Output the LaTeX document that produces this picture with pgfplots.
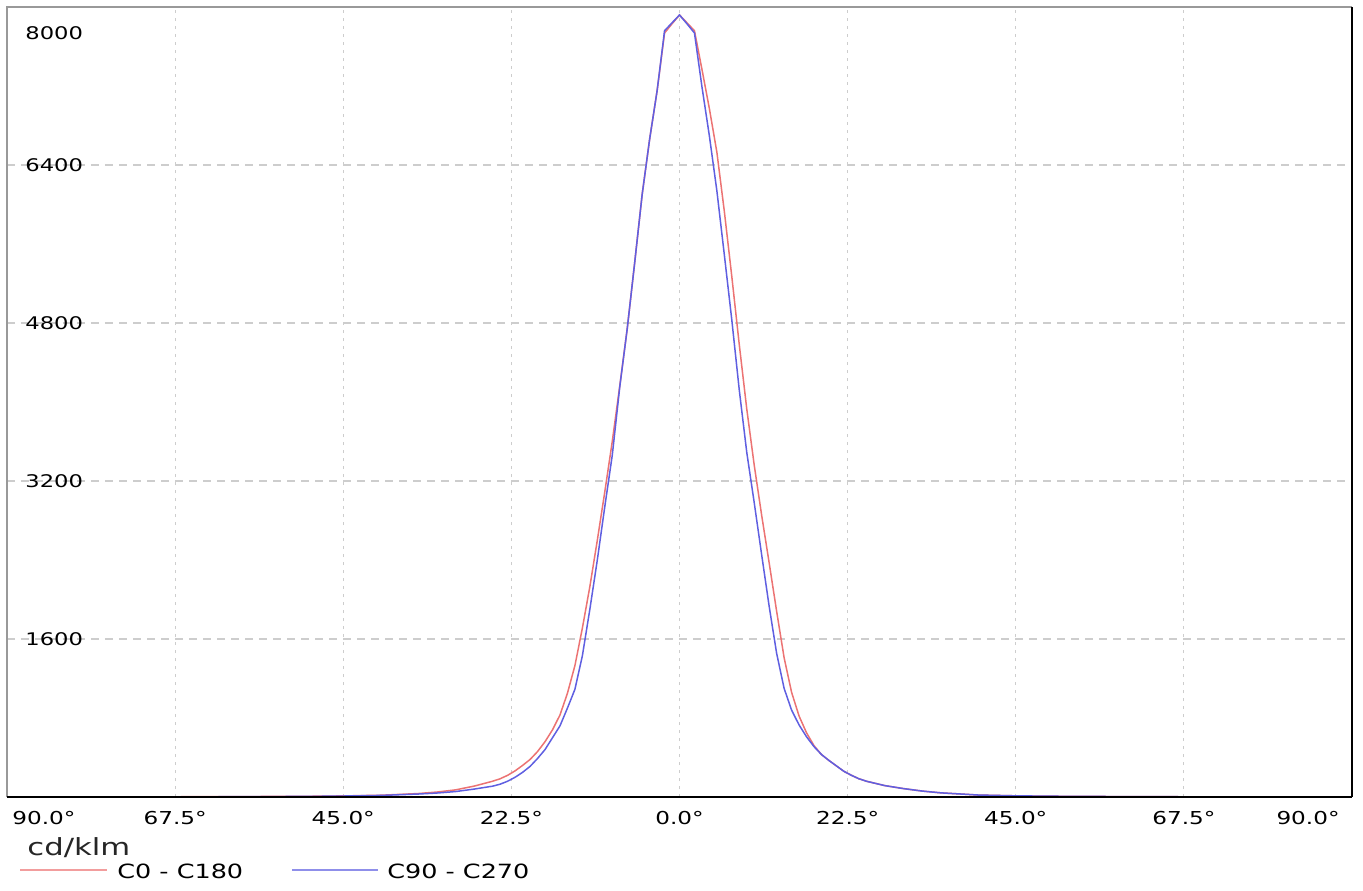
\documentclass[border=0pt]{standalone}
\usepackage{pgfplots}
\pgfplotsset{compat=1.18}
\usepackage{pgfplotstable}
\usepackage{fontspec}
\setmainfont{DejaVu Sans}[FakeStretch=1.3]
\definecolor{cred}{RGB}{236,115,115}
\definecolor{cblue}{RGB}{95,95,225}
\definecolor{gridc}{RGB}{205,205,205}

\pgfplotstableread{
x y
-70 2
-60 4
-50 7
-45 11
-40 18
-35 35
-32.5 50
-30 72
-27.5 110
-25 160
-24 185
-23 220
-22 265
-21 320
-20 380
-19 460
-18 560
-17 680
-16 830
-15 1050
-14 1330
-13 1710
-12 2130
-11 2600
-10 3090
-9 3600
-8 4160
-7 4740
-6 5410
-5 6100
-4 6660
-3 7150
-2 7737
-1 7830
0 7919
1 7840
2 7760
3 7370
4 6970
5 6530
6 5930
7 5270
8 4580
9 3930
10 3360
11 2850
12 2370
13 1880
14 1410
15 1060
16 820
17 650
18 520
19 430
20 370
21 315
22 260
23 220
24 185
25 160
27.5 115
30 85
32.5 60
35 42
40 20
45 12
50 8
60 4
70 2
76 1
}\redtab

\pgfplotstableread{
x y
-70 1
-60 3
-50 6
-45 10
-40 16
-35 30
-32.5 40
-30 55
-27.5 80
-25 110
-24 130
-23 160
-22 200
-21 250
-20 310
-19 390
-18 480
-17 600
-16 720
-15 900
-14 1090
-13 1430
-12 1900
-11 2400
-10 2940
-9 3460
-8 4150
-7 4740
-6 5410
-5 6100
-4 6660
-3 7150
-2 7760
-1 7840
0 7919
1 7830
2 7737
3 7194
4 6693
5 6139
6 5490
7 4830
8 4120
9 3490
10 2980
11 2450
12 1930
13 1454
14 1100
15 880
16 730
17 610
18 510
19 430
20 370
21 315
22 260
23 220
24 185
25 160
27.5 115
30 85
32.5 60
35 42
40 20
45 12
50 8
60 4
70 2
76 1
}\bluetab

\begin{document}
\begin{tikzpicture}
\begin{axis}[
  at={(0,0)}, anchor=south west,
  scale only axis,
  width=672.5pt, height=395pt,
  xmin=-90, xmax=90, ymin=0, ymax=8000,
  axis line style={draw=none},
  major tick length=0pt,
  xtick={-67.5,-45,-22.5,0,22.5,45,67.5},
  xticklabels={67.5°,45.0°,22.5°,0.0°,22.5°,45.0°,67.5°},
  ytick={1600,3200,4800,6400},
  yticklabels={1600,3200,4800,6400},
  xticklabel style={font=\fontsize{8.9}{10}\selectfont, inner sep=0pt, anchor=north, yshift=-7pt},
  yticklabel style={font=\fontsize{8.7}{10}\selectfont, inner sep=0pt, anchor=west, xshift=9pt},
  xmajorgrids, ymajorgrids,
  x grid style={gridc, line width=0.6pt, dash pattern=on 1.5pt off 2.5pt},
  y grid style={gridc, line width=0.6pt, dash pattern=on 4pt off 3pt},
  clip=false,
]
\addplot[cred, line width=0.75pt] table[x=x,y=y] {\redtab};
\addplot[cblue, line width=0.75pt] table[x=x,y=y] {\bluetab};
\draw[gray!80, line width=0.6pt] (rel axis cs:0,0) -- (rel axis cs:0,1) -- (rel axis cs:1,1);
\draw[black, line width=0.8pt] (rel axis cs:0,0) -- (rel axis cs:1,0);
\draw[black, line width=1.1pt] (rel axis cs:1,0) -- (rel axis cs:1,1);
\node[anchor=west, inner sep=0pt, font=\fontsize{8.7}{10}\selectfont] at ([xshift=9pt,yshift=-13pt]rel axis cs:0,1) {8000};
\node[anchor=north west, inner sep=0pt, font=\fontsize{8.9}{10}\selectfont] at ([xshift=2.5pt,yshift=-7pt]rel axis cs:0,0) {90.0°};
\node[anchor=north east, inner sep=0pt, font=\fontsize{8.9}{10}\selectfont] at ([xshift=-6pt,yshift=-7pt]rel axis cs:1,0) {90.0°};
\end{axis}
\node[anchor=base west, inner sep=0pt, font=\fontsize{11.8}{13}\selectfont, text=black!85] at (10pt,-29pt) {cd/klm};
\draw[cred!70!white, line width=0.75pt] (6.5pt,-36.5pt) -- (50pt,-36.5pt);
\node[anchor=base west, inner sep=0pt, font=\fontsize{9.8}{11}\selectfont] at (55pt,-40.5pt) {C0 - C180};
\draw[cblue!70!white, line width=0.75pt] (142.5pt,-36.5pt) -- (185.5pt,-36.5pt);
\node[anchor=base west, inner sep=0pt, font=\fontsize{9.8}{11}\selectfont] at (190pt,-40.5pt) {C90 - C270};
\pgfresetboundingbox
\path (-3.5pt,-46.5pt) rectangle (678pt,398.5pt);
\end{tikzpicture}
\end{document}
